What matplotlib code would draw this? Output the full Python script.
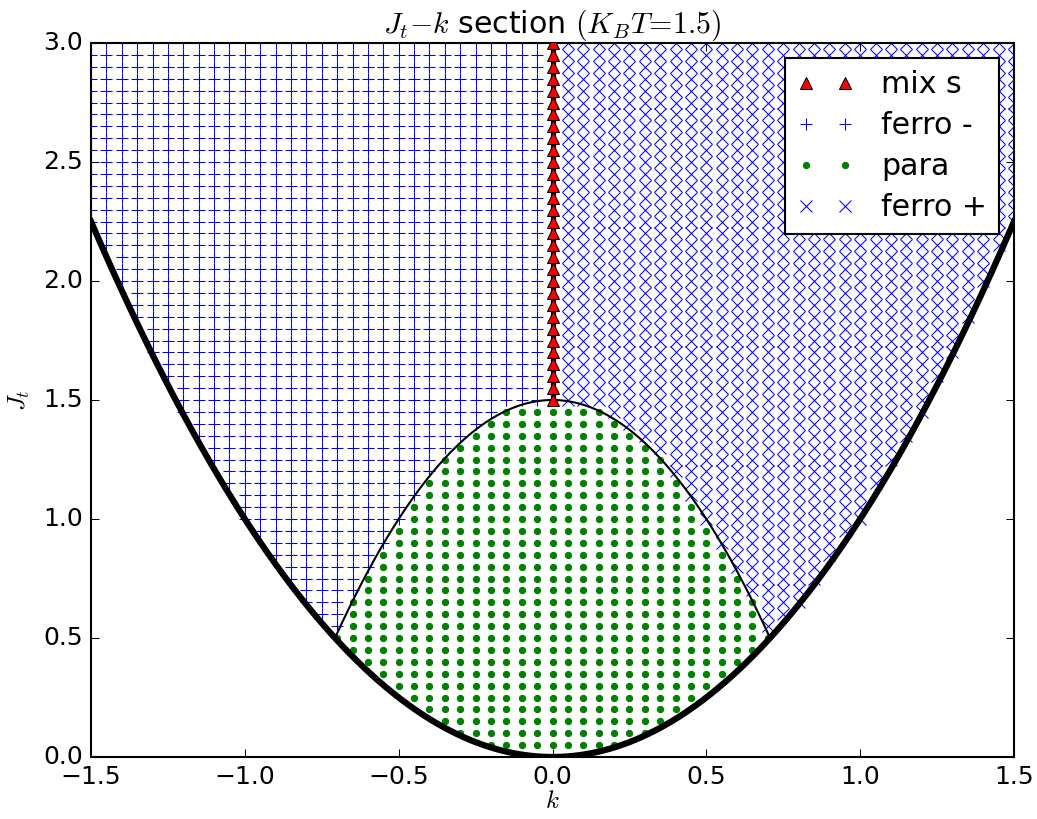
import numpy as np
import matplotlib
matplotlib.use("Agg")
import matplotlib.pyplot as plt

# vanha matplotlib-tyyli, kuten alkuperäisessä kuvassa
plt.style.use("classic")

# hilan askeleet luettu kuvasta (0.05 molempiin suuntiin)
k_values = np.round(np.arange(-1.5, 1.5001, 0.05), 2)
jt_values = np.round(np.arange(0.0, 3.0001, 0.05), 2)

# faasirajat
KBT = 1.5           # paramagneettisen alueen huippu k=0:ssa
PARA_CURV = 2.0     # Jt = KBT - PARA_CURV*k^2
k_curve = np.linspace(-1.5, 1.5, 301)
k_para = np.sqrt(KBT / (1.0 + PARA_CURV))
k_para_curve = np.linspace(-k_para, k_para, 201)
mix_line_k = [0.0, 0.0]
mix_line_j = [KBT, 3.0]

labels = ["mix s", "ferro -", "para", "ferro +"]

K, J = np.meshgrid(k_values, jt_values)
K = K.ravel()
J = J.ravel()
eps = 1e-9
lower = K**2
upper = KBT - PARA_CURV * K**2
inside = J >= lower - eps

mix = inside & (np.abs(K) < eps) & (J >= KBT - eps)
para = inside & (J > lower + eps) & (J < upper - eps)
ferro_minus = inside & (K < -eps) & (J >= upper - eps)
ferro_plus = inside & (K > eps) & (J >= upper - eps)

fig = plt.figure(figsize=(1037 / 150, 819 / 150), dpi=150)
fig.patch.set_facecolor("white")
ax = fig.add_axes([91 / 1037, 62 / 819, 923 / 1037, 714 / 819])

# musta rajaviiva k=0 kolmioiden alla
ax.plot(mix_line_k, mix_line_j, "k-", lw=2.5, zorder=3)
ax.plot(K[mix], J[mix], "r^", label=labels[0], zorder=4)
ax.plot(K[ferro_minus], J[ferro_minus], "b+", label=labels[1])
ax.plot(K[para], J[para], "g.", label=labels[2])
ax.plot(K[ferro_plus], J[ferro_plus], "bx", label=labels[3])

ax.plot(k_curve, k_curve**2, "k-", lw=3)
ax.plot(k_para_curve, KBT - PARA_CURV * k_para_curve**2, "k-", lw=1)

ax.set_xlim(-1.5, 1.5)
ax.set_ylim(0.0, 3.0)
ax.set_xticks(np.arange(-1.5, 1.51, 0.5))
ax.set_yticks(np.arange(0.0, 3.01, 0.5))
ax.set_xlabel("$k$", labelpad=0)
ax.set_ylabel("$J_t$")
ax.set_title(r"$J_t$$-$$k$ section $(K_BT\!=\!1.5)$", fontsize=14.4)

leg = ax.legend(loc="upper right", numpoints=2, labelspacing=0.4,
                handlelength=1.9, handletextpad=0.9)
leg.get_frame().set_edgecolor("black")

fig.savefig("out.png", dpi=150, facecolor="white")
